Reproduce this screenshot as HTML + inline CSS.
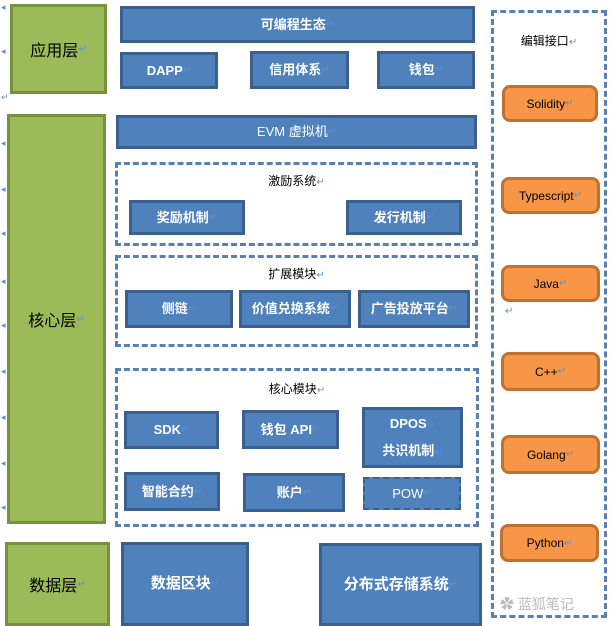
<!DOCTYPE html>
<html><head><meta charset="utf-8"><style>
body{margin:0;width:611px;height:626px;background:#fff;position:relative;overflow:hidden;font-family:"Liberation Sans","Noto Sans CJK SC",sans-serif}
.b{position:absolute;box-sizing:border-box;background:#4f81bd;border:3px solid #3a6090;color:#fff;font-size:13px;display:flex;align-items:center;justify-content:center;text-align:center;line-height:22px;font-weight:bold}
.g{position:absolute;box-sizing:border-box;background:#9bbb59;border:3px solid #76923c;color:#000;font-size:16px;display:flex;align-items:center;justify-content:center}
.o{position:absolute;box-sizing:border-box;background:#f79646;border:3px solid #c0712f;border-radius:8px;color:#000;font-size:12px;display:flex;align-items:center;justify-content:center}
.d{position:absolute;box-sizing:border-box;border:3px dashed #5a80b0}
.t{position:absolute;font-size:12px;color:#000;text-align:center}
.r{color:#5b8fd6;font-size:10px;font-weight:normal}
.a{position:absolute;left:1px;color:#5b8fd6;font-size:9px}
</style></head><body>
<div class="g" style="left:10px;top:4px;width:97px;height:90px">应用层<span class="r">↵</span></div>
<div class="g" style="left:7px;top:114px;width:99px;height:410px">核心层<span class="r">↵</span></div>
<div class="g" style="left:5px;top:542px;width:105px;height:84px">数据层<span class="r">↵</span></div>
<span class="a" style="top:2px">◂</span><span class="a" style="top:46px">◂</span><span class="a" style="top:92px">↵</span>
<span class="a" style="top:138px">◂</span><span class="a" style="top:184px">◂</span><span class="a" style="top:228px">◂</span><span class="a" style="top:276px">◂</span><span class="a" style="top:320px">◂</span><span class="a" style="top:366px">◂</span><span class="a" style="top:412px">◂</span><span class="a" style="top:458px">◂</span><span class="a" style="top:502px">◂</span>

<div class="b" style="left:120px;top:6px;width:355px;height:37px">可编程生态<span class="r">↵</span></div>
<div class="b" style="left:120px;top:52px;width:98px;height:37px">DAPP<span class="r">↵</span></div>
<div class="b" style="left:250px;top:51px;width:99px;height:38px">信用体系<span class="r">↵</span></div>
<div class="b" style="left:377px;top:51px;width:98px;height:38px">钱包<span class="r">↵</span></div>
<div class="b" style="left:116px;top:115px;width:361px;height:34px;font-weight:normal">EVM 虚拟机<span class="r">↵</span></div>

<div class="d" style="left:115px;top:162px;width:363px;height:84px"></div>
<div class="t" style="left:115px;top:172px;width:363px">激励系统<span class="r">↵</span></div>
<div class="b" style="left:129px;top:200px;width:116px;height:35px">奖励机制<span class="r">↵</span></div>
<div class="b" style="left:346px;top:200px;width:116px;height:35px">发行机制<span class="r">↵</span></div>

<div class="d" style="left:115px;top:255px;width:363px;height:92px"></div>
<div class="t" style="left:115px;top:265px;width:363px">扩展模块<span class="r">↵</span></div>
<div class="b" style="left:125px;top:290px;width:108px;height:38px">侧链<span class="r">↵</span></div>
<div class="b" style="left:239px;top:290px;width:112px;height:38px">价值兑换系统<span class="r">↵</span></div>
<div class="b" style="left:358px;top:290px;width:112px;height:38px">广告投放平台<span class="r">↵</span></div>

<div class="d" style="left:115px;top:368px;width:364px;height:159px"></div>
<div class="t" style="left:115px;top:380px;width:364px">核心模块<span class="r">↵</span></div>
<div class="b" style="left:124px;top:411px;width:95px;height:38px">SDK<span class="r">↵</span></div>
<div class="b" style="left:242px;top:410px;width:97px;height:39px">钱包 API<span class="r">↵</span></div>
<div class="b" style="left:362px;top:407px;width:101px;height:61px"><div style="line-height:25px">DPOS<span class="r">↵</span><br>共识机制<span class="r">↵</span></div></div>
<div class="b" style="left:124px;top:472px;width:96px;height:39px">智能合约<span class="r">↵</span></div>
<div class="b" style="left:243px;top:473px;width:102px;height:39px">账户<span class="r">↵</span></div>
<div class="b" style="left:363px;top:477px;width:98px;height:33px;border:2px dashed #3a6090;font-weight:normal">POW<span class="r">↵</span></div>

<div class="b" style="left:121px;top:542px;width:128px;height:84px;font-size:15px">数据区块<span class="r">↵</span></div>
<div class="b" style="left:319px;top:543px;width:163px;height:83px;font-size:15px">分布式存储系统<span class="r">↵</span></div>

<div class="d" style="left:491px;top:10px;width:116px;height:608px"></div>
<div class="t" style="left:491px;top:32px;width:116px">编辑接口<span class="r">↵</span></div>
<div class="o" style="left:502px;top:85px;width:96px;height:37px">Solidity<span class="r">↵</span></div>
<div class="o" style="left:501px;top:177px;width:99px;height:37px">Typescript<span class="r">↵</span></div>
<div class="o" style="left:501px;top:265px;width:99px;height:37px">Java<span class="r">↵</span></div>
<span class="r" style="position:absolute;left:505px;top:306px">↵</span>
<div class="o" style="left:501px;top:352px;width:99px;height:39px">C++<span class="r">↵</span></div>
<div class="o" style="left:501px;top:435px;width:99px;height:39px">Golang<span class="r">↵</span></div>
<div class="o" style="left:500px;top:524px;width:99px;height:38px">Python<span class="r">↵</span></div>
<div style="position:absolute;left:500px;top:594px;font-size:14px;color:#bbb">✿ 蓝狐笔记</div>
</body></html>
